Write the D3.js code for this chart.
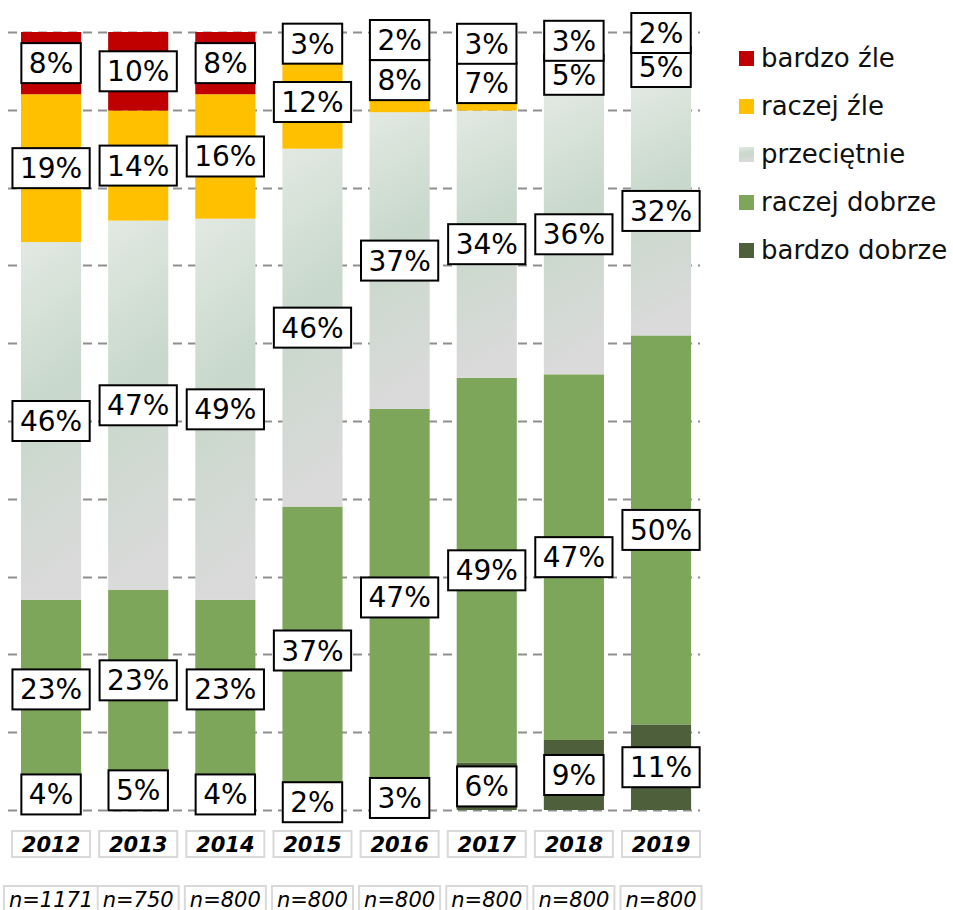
<!DOCTYPE html>
<html>
<head>
<meta charset="utf-8">
<script src="https://cdnjs.cloudflare.com/ajax/libs/d3/7.8.5/d3.min.js"></script>
<style>
  body { margin: 0; background: #fff; }
  text { font-family: "DejaVu Sans", Verdana, sans-serif; }
</style>
</head>
<body>
<div id="chart"></div>
<script>
/* data */
var years = ["2012", "2013", "2014", "2015", "2016", "2017", "2018", "2019"];
var sampleSizes = ["n=1171", "n=750", "n=800", "n=800", "n=800", "n=800", "n=800", "n=800"];

// series from bottom of the stack to the top
var categories = ["bardzo dobrze", "raczej dobrze", "przeciętnie", "raczej źle", "bardzo źle"];
var bardzoDobrze = [4, 5, 4, 2, 3, 6, 9, 11];
var raczejDobrze = [23, 23, 23, 37, 47, 49, 47, 50];
var przecietnie  = [46, 47, 49, 46, 37, 34, 36, 32];
var raczejZle    = [19, 14, 16, 12, 8, 7, 5, 5];
var bardzoZle    = [8, 10, 8, 3, 2, 3, 3, 2];

var seriesValues = [bardzoDobrze, raczejDobrze, przecietnie, raczejZle, bardzoZle];

var drawChart = function(htmlID) {

	var width = 953,
	    height = 910;

	var svg = d3.select(htmlID)
	    .append("svg")
	    .attr("width", width)
	    .attr("height", height);

	/* gradient for the "przeciętnie" segments */
	var defs = svg.append("defs");
	var grad = defs.append("linearGradient")
	    .attr("id", "gradMid")
	    .attr("x1", 0).attr("y1", 0)
	    .attr("x2", 0.12).attr("y2", 1);
	grad.append("stop").attr("offset", "0%").attr("stop-color", "#e2e9e3");
	grad.append("stop").attr("offset", "48%").attr("stop-color", "#c8d8cb");
	grad.append("stop").attr("offset", "100%").attr("stop-color", "#dadada");

	var colors = {
		"bardzo dobrze": "#4e5f3b",
		"raczej dobrze": "#7ea65a",
		"przeciętnie": "url(#gradMid)",
		"raczej źle": "#ffc000",
		"bardzo źle": "#c00000"
	};

	/* table for the stack */
	var table = years.map(function(y, i) {
		var row = { year: y };
		categories.forEach(function(c, j) { row[c] = seriesValues[j][i]; });
		return row;
	});

	var stack = d3.stack()
	    .keys(categories)
	    .offset(d3.stackOffsetExpand);
	var stacked = stack(table);

	var x = d3.scaleBand()
	    .domain(years)
	    .range([7.5, 704.6])
	    .paddingInner(0.31)
	    .paddingOuter(0.155);

	var y = d3.scaleLinear()
	    .domain([0, 1])
	    .range([810, 32]);

	/* dashed gridlines */
	svg.append("g")
	    .selectAll("line")
	    .data(y.ticks(10))
	    .enter().append("line")
	    .attr("x1", 8)
	    .attr("x2", 700)
	    .attr("y1", function(d) { return Math.round(y(d)) + 0.5; })
	    .attr("y2", function(d) { return Math.round(y(d)) + 0.5; })
	    .attr("stroke", "#8f8f8f")
	    .attr("stroke-width", 2)
	    .attr("stroke-dasharray", "9,6");

	/* bars */
	svg.append("g")
	    .selectAll("g")
	    .data(stacked)
	    .enter().append("g")
	    .attr("fill", function(d) { return colors[d.key]; })
	    .selectAll("rect")
	    .data(function(d) { return d; })
	    .enter().append("rect")
	    .attr("x", function(d) { return x(d.data.year); })
	    .attr("width", x.bandwidth())
	    .attr("y", function(d) { return y(d[1]); })
	    .attr("height", function(d) { return y(d[0]) - y(d[1]); });

	/* label centres: middle of segment, pushed up if too close to the one below */
	var minGap = 34;
	var centres = stacked.map(function(s) { return s.map(function(d) { return (y(d[0]) + y(d[1])) / 2; }); });
	years.forEach(function(yr, i) {
		for (var j = 1; j < centres.length; j++) {
			if (centres[j - 1][i] - centres[j][i] < minGap) {
				centres[j][i] = centres[j - 1][i] - minGap;
			}
		}
	});

	/* value labels: white boxes, drawn series by series so the top one wins */
	var labelLayer = svg.append("g");
	stacked.forEach(function(s, j) {
		s.forEach(function(d, i) {
			var cx = x(d.data.year) + x.bandwidth() / 2,
			    cy = centres[j][i];
			var g = labelLayer.append("g");
			var r = g.append("rect")
			    .attr("fill", "#fff")
			    .attr("stroke", "#000")
			    .attr("stroke-width", 2);
			var t = g.append("text")
			    .attr("x", cx)
			    .attr("y", cy + 10)
			    .attr("text-anchor", "middle")
			    .attr("font-size", "28px")
			    .attr("fill", "#000")
			    .text(seriesValues[j][i] + "%");
			var w = t.node().getComputedTextLength() + 15;
			r.attr("x", cx - w / 2)
			    .attr("y", cy - 20)
			    .attr("width", w)
			    .attr("height", 40);
		});
	});

	/* year boxes */
	var yearG = svg.append("g")
	    .selectAll("g")
	    .data(years)
	    .enter().append("g");
	yearG.append("rect")
	    .attr("x", function(d) { return x(d) + x.bandwidth() / 2 - 39; })
	    .attr("y", 831)
	    .attr("width", 78)
	    .attr("height", 26)
	    .attr("fill", "#fff")
	    .attr("stroke", "#d9d9d9")
	    .attr("stroke-width", 2);
	yearG.append("text")
	    .attr("x", function(d) { return x(d) + x.bandwidth() / 2; })
	    .attr("y", 852)
	    .attr("text-anchor", "middle")
	    .attr("font-size", "21px")
	    .attr("font-weight", "bold")
	    .attr("font-style", "italic")
	    .text(function(d) { return d; });

	/* sample size boxes */
	sampleSizes.forEach(function(n, i) {
		var cx = x(years[i]) + x.bandwidth() / 2;
		var g = svg.append("g");
		var r = g.append("rect")
		    .attr("fill", "#fff")
		    .attr("stroke", "#d9d9d9")
		    .attr("stroke-width", 2);
		var t = g.append("text")
		    .attr("x", cx)
		    .attr("y", 906.5)
		    .attr("text-anchor", "middle")
		    .attr("font-size", "21px")
		    .attr("font-style", "italic")
		    .text(n);
		var w = t.node().getComputedTextLength() + 10;
		r.attr("x", cx - w / 2)
		    .attr("y", 886)
		    .attr("width", w)
		    .attr("height", 30);
	});

	/* legend, top series first */
	var legend = svg.append("g")
	    .selectAll("g")
	    .data(categories.slice().reverse())
	    .enter().append("g")
	    .attr("transform", function(d, i) { return "translate(739," + (58.5 + i * 48) + ")"; });
	legend.append("rect")
	    .attr("x", 0)
	    .attr("y", -7.5)
	    .attr("width", 15)
	    .attr("height", 15)
	    .attr("fill", function(d) { return colors[d]; });
	legend.append("text")
	    .attr("x", 22)
	    .attr("y", 8.5)
	    .attr("font-size", "26px")
	    .attr("fill", "#111")
	    .text(function(d) { return d; });
}

drawChart("#chart");
</script>
</body>
</html>
